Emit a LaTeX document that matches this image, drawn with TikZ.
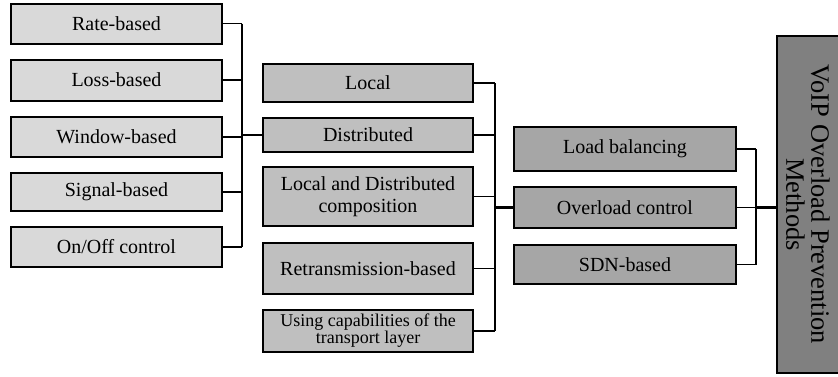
\documentclass[tikz,border=0pt]{standalone}
\usepackage{fontspec}
\setmainfont{Liberation Serif}
\newfontfamily\tnr{Liberation Serif}
\begin{document}
\begin{tikzpicture}[x=1pt,y=-1pt,
  boxbase/.style={draw=black, line width=2pt, inner sep=0pt, align=center, font=\tnr\fontsize{20}{22}\selectfont},
  lbox/.style={boxbase, fill=black!15, minimum width=211pt},
  mbox/.style={boxbase, fill=black!25, minimum width=210pt},
  rbox/.style={boxbase, fill=black!35, minimum width=222pt},
  bigbox/.style={draw=black, line width=2pt, inner sep=0pt, fill=black!50, minimum width=62pt, minimum height=337pt},
  conn/.style={line width=1.8pt},
  link/.style={line width=2.8pt}]
\useasboundingbox (0,0) rectangle (838,376);
\clip (0,0) rectangle (838,376);
% left column
\node[lbox, minimum height=40pt] (rate) at (116.5,23.5) {Rate-based};
\node[lbox, minimum height=41pt] (loss) at (116.5,80) {Loss-based};
\node[lbox, minimum height=40pt] (window) at (116.5,137) {Window-based};
\node[lbox, minimum height=38pt] (signal) at (116.5,192) {Signal-based};
\node[lbox, minimum height=40pt] (onoff) at (116.5,247) {On/Off control};
% middle column
\node[mbox, minimum height=38pt] (local) at (368,83) {Local};
\node[mbox, minimum height=34pt] (dist) at (368,135) {Distributed};
\node[mbox, minimum height=59pt] (comp) at (368,196.5) {Local and Distributed\\composition};
\node[mbox, minimum height=51pt] (retr) at (368,268.5) {Retransmission-based};
\node[mbox, minimum height=42pt, font=\tnr\fontsize{18}{17}\selectfont] (using) at (368,331) {Using capabilities of the\\transport layer};
% right-middle column
\node[rbox, minimum height=44pt] (load) at (625,149) {Load balancing};
\node[rbox, minimum height=41pt] (over) at (625,207.5) {Overload control};
\node[rbox, minimum height=39pt] (sdn) at (625,264.5) {SDN-based};
% big box
\node[bigbox] (big) at (808,204.5) {};
\node[rotate=-90, align=center, font=\tnr\fontsize{26.5}{25}\selectfont] (bigtext) at (big.center) {VoIP Overload Prevention\\Methods};
% bus coordinates
\coordinate (lb) at (242,0);
\coordinate (mb) at (495,0);
\coordinate (rb) at (756,0);
% left bus
\foreach \n in {rate,loss,window,signal,onoff}
  \draw[conn] (\n.east) -- (\n.east -| lb);
\draw[conn] (rate.east -| lb) -- (onoff.east -| lb);
\draw[link] (lb |- dist.west) -- (dist.west);
% middle bus
\foreach \n in {local,dist,comp,retr,using}
  \draw[conn] (\n.east) -- (\n.east -| mb);
\draw[conn] (local.east -| mb) -- (using.east -| mb);
\draw[link] (mb |- over.west) -- (over.west);
% right bus
\foreach \n in {load,over,sdn}
  \draw[conn] (\n.east) -- (\n.east -| rb);
\draw[conn] (load.east -| rb) -- (sdn.east -| rb);
\draw[link] (over.east -| rb) -- (over.east -| big.west);
\end{tikzpicture}
\end{document}
